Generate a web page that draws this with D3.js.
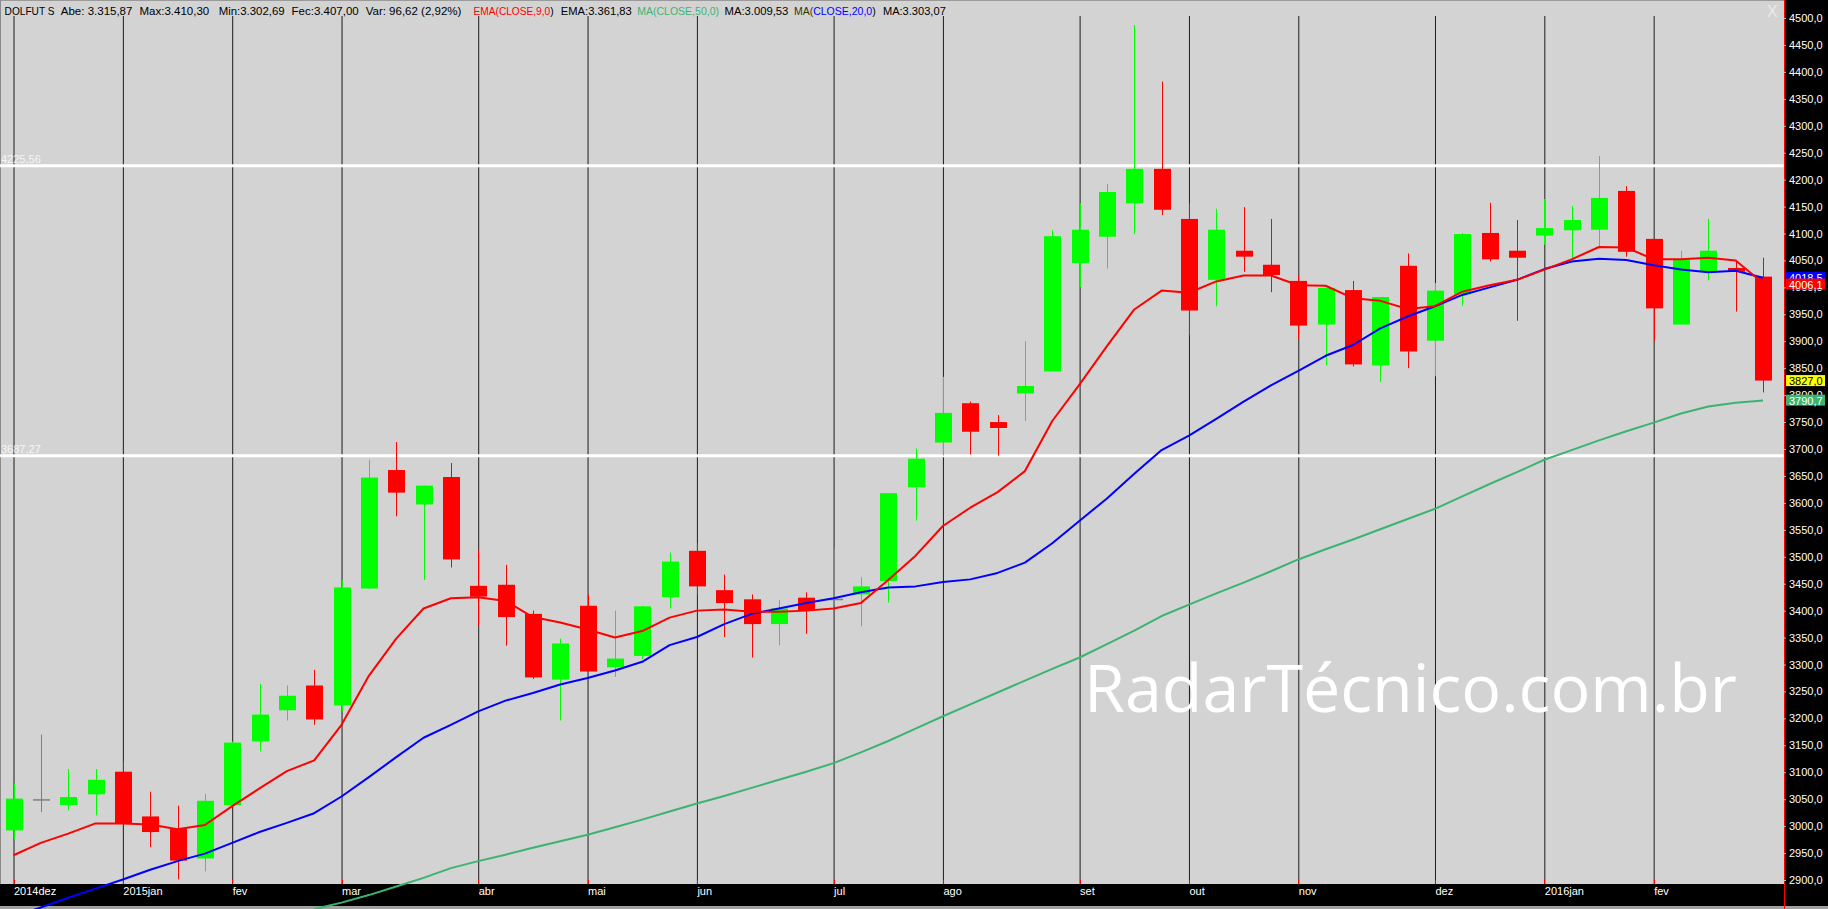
<!DOCTYPE html>
<html lang="pt">
<head>
<meta charset="UTF-8">
<title>DOLFUT S - semanal</title>
<style>
  body { margin: 0; background: #000; }
  svg { display: block; font-family: "Liberation Sans", Arial, sans-serif; }
  .grid path { display: none; }
  .grid line { stroke: #1c1c1c; }
  .axis--y path { display: none; }
  .axis--y line { stroke: #bbb; }
  .axis--y text { fill: #fff; font-size: 11px; }
  .axis--x path, .axis--x line { display: none; }
  .axis--x text { fill: #fff; font-size: 11px; }
</style>
</head>
<body>
<script src="https://d3js.org/d3.v7.min.js"></script>
<script>
// weekly candles, dez/2014 .. fev/2016 (index = week)
var weekOpen  = [2992,3050,3039,3059,3101,3018,2995,2940,3039,3157,3215,3261,3224,3441,3661,3597,3648,3446,3448,3394,3272,3409,3295,3316,3425,3511,3438,3421,3375,3424,3422,3430,3455,3629,3712,3785,3750,3803,3844,4045,4094,4156,4220,4127,4014,4068,4042,4012,3931,3995,3855,4040,3901,3987,4101,4068,4096,4106,4107,4179,4090,3931,4029,4036,4020];
var weekHigh  = [3079,3170,3106,3106,3120,3064,3038,3060,3157,3264,3261,3290,3456,3680,3713,3632,3674,3512,3485,3400,3348,3430,3400,3409,3508,3525,3467,3430,3420,3434,3517,3462,3618,3701,3834,3788,3763,3900,4106,4156,4192,4487,4382,4156,4146,4149,4127,4023,3999,4012,3982,4063,4008,4101,4157,4125,4164,4151,4244,4188,4090,4068,4127,4051,4055];
var weekLow   = [2976,3026,3029,3020,3003,2961,2901,2916,3038,3139,3196,3188,3213,3440,3575,3457,3480,3371,3335,3273,3196,3287,3277,3310,3404,3430,3351,3313,3336,3357,3410,3371,3415,3567,3688,3690,3688,3752,3844,4000,4035,4099,4134,3911,3965,4029,3991,3903,3855,3853,3824,3850,3835,3966,4048,3938,4079,4051,4072,4057,3901,3931,4013,3955,3805];
var weekClose = [3051,3050,3054,3086,3005,2989,2936,3047,3155,3207,3242,3198,3443,3647,3619,3632,3495,3426,3388,3276,3339,3287,3311,3408,3491,3445,3414,3375,3404,3400,3422,3445,3618,3682,3767,3732,3739,3817,4095,4107,4177,4220,4144,3957,4107,4057,4023,3929,3999,3857,3982,3881,3994,4099,4052,4055,4110,4125,4166,4066,3961,4051,4068,4029,3827];

var ema9 = [2946,2969,2986,3005,3005,3003,2994,3002,3037,3070,3102,3122,3188,3279,3348,3404,3423,3425,3418,3388,3378,3365,3350,3362,3387,3400,3402,3398,3398,3400,3404,3414,3457,3502,3557,3591,3620,3659,3752,3820,3891,3959,3994,3990,4011,4022,4022,4004,4003,3980,3975,3960,3965,3992,4004,4014,4033,4052,4075,4074,4052,4052,4055,4050,4008];
var ma20 = [2832,2849,2867,2884,2901,2919,2935,2949,2969,2989,3006,3024,3055,3091,3128,3164,3188,3213,3233,3247,3263,3275,3289,3305,3336,3351,3375,3394,3404,3414,3423,3434,3443,3445,3453,3458,3470,3489,3525,3567,3608,3654,3698,3725,3756,3788,3818,3845,3873,3893,3924,3946,3965,3986,4000,4014,4034,4048,4053,4051,4041,4033,4028,4031,4018];
var ma50 = [null,null,null,null,null,null,null,null,null,null,null,2846,2858,2872,2888,2904,2922,2935,2947,2960,2972,2984,2998,3012,3027,3042,3056,3071,3086,3101,3117,3137,3158,3181,3204,3226,3248,3270,3292,3313,3338,3363,3390,3411,3432,3452,3473,3495,3514,3532,3551,3570,3589,3612,3635,3657,3680,3698,3716,3733,3749,3766,3779,3786,3790];

var monthIdx    = [0,4,8,12,17,21,25,30,34,39,43,47,52,56,60];
var monthLabels = ["2014dez","2015jan","fev","mar","abr","mai","jun","jul","ago","set","out","nov","dez","2016jan","fev"];
var yTicks = d3.range(2900, 4501, 50);
var levels = [4225.56, 3687.27];
var lastMarks = [4018.5, 4006.1, 3827.0, 3790.7];

var headerParts = [
    [["DOLFUT S", "#000"]],
    [["Abe: 3.315,87", "#000"]],
    [["Max:3.410,30", "#000"]],
    [["Min:3.302,69", "#000"]],
    [["Fec:3.407,00", "#000"]],
    [["Var: 96,62 (2,92%)", "#000"]],
    [["EMA(CLOSE,9,0", "#f00"], [")", "#000"]],
    [["EMA:3.361,83", "#000"]],
    [["MA(CLOSE,50,0)", "#3cb371"]],
    [["MA:3.009,53", "#000"]],
    [["MA(", "#333300"], ["CLOSE,20,0", "#00f"], [")", "#000"]],
    [["MA:3.303,07", "#000"]]
];

var width = 1828, height = 909,
    plotRight = 1784, plotBottom = 884, plotTop = 16;

var svg = d3.select("body").append("svg")
    .attr("width", width)
    .attr("height", height);

var x = d3.scaleLinear().domain([0, 64]).range([13.5, 1763]);
var y = d3.scaleLinear().domain([2900, 4500]).range([880, 18]);

// plot background
svg.append("rect").attr("width", plotRight).attr("height", plotBottom).attr("fill", "#d3d3d3");
svg.append("line").attr("x1", 0).attr("x2", plotRight).attr("y1", 0.5).attr("y2", 0.5).attr("stroke", "#9a9a9a");
svg.append("line").attr("x1", 0.5).attr("x2", 0.5).attr("y1", 0).attr("y2", plotBottom).attr("stroke", "#8a8a8a");

// month grid lines
svg.append("g")
    .attr("class", "grid")
    .attr("transform", "translate(0," + plotBottom + ")")
    .call(d3.axisBottom(x).tickValues(monthIdx).tickSize(-(plotBottom - plotTop)).tickFormat(""));

// horizontal levels
svg.selectAll(".level")
    .data(levels)
    .enter().append("line")
    .attr("class", "level")
    .attr("x1", 0).attr("x2", plotRight)
    .attr("y1", function(d) { return y(d); })
    .attr("y2", function(d) { return y(d); })
    .attr("stroke", "#fff").attr("stroke-width", 3);
svg.selectAll(".levelText")
    .data(levels)
    .enter().append("text")
    .attr("x", 1)
    .attr("y", function(d) { return y(d) - 3; })
    .attr("fill", "#fff").attr("opacity", 0.8)
    .attr("font-size", "11px")
    .text(function(d) { return d.toFixed(2).replace(".", ","); });

// watermark
var wm = svg.append("text")
    .attr("x", 1084).attr("y", 712)
    .attr("fill", "#fff")
    .style("font-family", "'Open Sans', sans-serif")
    .style("font-size", "64px")
    .text("RadarTécnico.com.br");
var wmLen = wm.node().getComputedTextLength();
wm.style("font-size", (64 * 653 / wmLen) + "px");

// candles
var candles = weekOpen.map(function(o, i) {
    return { i: i, o: o, h: weekHigh[i], l: weekLow[i], c: weekClose[i] };
});
function candleColor(d) {
    if (d.c > d.o) return "#00ff00";
    if (d.c < d.o) return "#ff0000";
    return "#808080";
}
var bodyW = 17;
var cg = svg.append("g").selectAll("g")
    .data(candles)
    .enter().append("g");
cg.append("line")
    .attr("x1", function(d) { return Math.round(x(d.i)) + 0.5; })
    .attr("x2", function(d) { return Math.round(x(d.i)) + 0.5; })
    .attr("y1", function(d) { return y(d.h); })
    .attr("y2", function(d) { return y(d.l); })
    .attr("stroke", candleColor);
cg.append("rect")
    .attr("x", function(d) { return Math.round(x(d.i)) + 0.5 - bodyW / 2; })
    .attr("width", bodyW)
    .attr("y", function(d) { return y(Math.max(d.o, d.c)); })
    .attr("height", function(d) { return Math.max(1.5, Math.abs(y(d.o) - y(d.c))); })
    .attr("fill", candleColor);

// bottom strip and right axis panel
svg.append("rect").attr("x", 0).attr("y", plotBottom).attr("width", width).attr("height", 22).attr("fill", "#000");
svg.append("rect").attr("x", 0).attr("y", 906).attr("width", width).attr("height", 3).attr("fill", "#a0a0a0");
svg.append("rect").attr("x", plotRight).attr("y", 0).attr("width", width - plotRight).attr("height", 906).attr("fill", "#000");
svg.append("line").attr("x1", plotRight + 0.5).attr("x2", plotRight + 0.5).attr("y1", 0).attr("y2", height).attr("stroke", "#f00");

svg.selectAll(".mtick")
    .data(monthIdx)
    .enter().append("line")
    .attr("class", "mtick")
    .attr("x1", function(d) { return Math.round(x(d)) + 0.5; })
    .attr("x2", function(d) { return Math.round(x(d)) + 0.5; })
    .attr("y1", plotBottom - 4).attr("y2", plotBottom)
    .attr("stroke", "#f00");

var xAxis = svg.append("g")
    .attr("class", "axis axis--x")
    .attr("transform", "translate(0," + plotBottom + ")")
    .call(d3.axisBottom(x).tickValues(monthIdx).tickSize(0).tickPadding(3)
        .tickFormat(function(d, i) { return monthLabels[i]; }));
xAxis.selectAll("text").attr("text-anchor", "start").attr("x", 0);

var fmt = function(d) { return d3.format(".1f")(d).replace(".", ","); };
svg.append("g")
    .attr("class", "axis axis--y")
    .attr("transform", "translate(" + plotRight + ",0)")
    .call(d3.axisRight(y).tickValues(yTicks).tickSize(2).tickPadding(3).tickFormat(fmt));

// indicator lines (drawn over the strip, like the original)
var line = d3.line()
    .defined(function(d) { return d != null; })
    .x(function(d, i) { return x(i); })
    .y(function(d) { return y(d); });
[[ma50, "#3cb371"], [ma20, "#0000ff"], [ema9, "#ff0000"]].forEach(function(s) {
    svg.append("path")
        .datum(s[0])
        .attr("fill", "none")
        .attr("stroke", s[1])
        .attr("stroke-width", 2)
        .attr("stroke-linejoin", "round")
        .attr("d", line);
});

// last value marks on the price axis
var markFill = ["#0000ff", "#ff0000", "#ffff00", "#3cb371"];
var markText = ["#fff", "#fff", "#000", "#fff"];
var mg = svg.append("g").selectAll("g")
    .data(lastMarks)
    .enter().append("g")
    .attr("transform", function(d) { return "translate(" + (plotRight + 2) + "," + y(d) + ")"; });
mg.append("rect")
    .attr("x", 0).attr("y", -5.5).attr("width", 39).attr("height", 11)
    .attr("fill", function(d, i) { return markFill[i]; });
mg.append("text")
    .attr("x", 3).attr("y", 4.5)
    .attr("font-size", "11px")
    .attr("fill", function(d, i) { return markText[i]; })
    .text(fmt);

// header: every coloured piece is its own text, shrunk if it would run past its slot
var headerX = [4.6, 60.8, 139.5, 218.7, 291.6, 365.7, 473.6, 560.8, 637.2, 724.5, 793.9, 882.9];
var headerW = [50, 72, 73, 66, 68, 100, 80, 71, 82, 64, 82, 63];
headerParts.forEach(function(parts, k) {
    var fs = 11.5;
    var nodes = parts.map(function(p) {
        return svg.append("text")
            .attr("y", 15)
            .attr("fill", p[1])
            .text(p[0]);
    });
    function place() {
        var cx = headerX[k];
        nodes.forEach(function(t) {
            t.attr("x", cx).attr("font-size", fs + "px");
            cx += t.node().getComputedTextLength();
        });
        return cx - headerX[k];
    }
    var w = place();
    if (w > headerW[k]) {
        fs = fs * headerW[k] / w;
        place();
    }
});
svg.append("text")
    .attr("x", 1767).attr("y", 17)
    .attr("font-size", "16px")
    .attr("fill", "#eaeaea")
    .text("X");
</script>
</body>
</html>
